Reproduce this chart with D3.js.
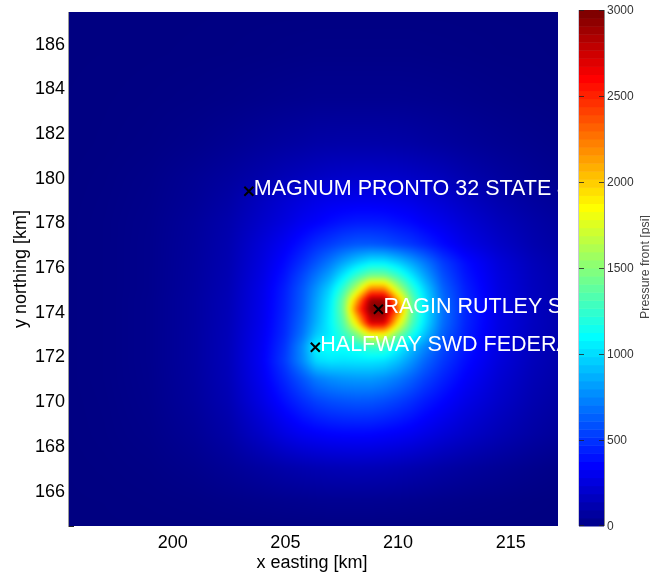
<!DOCTYPE html>
<html><head><meta charset="utf-8">
<script src="https://cdn.jsdelivr.net/npm/d3@7/dist/d3.min.js"></script>
<style>
html,body{margin:0;padding:0;background:#fff;}
#wrap{position:relative;width:650px;height:575px;overflow:hidden;}
canvas,svg{position:absolute;left:0;top:0;}
text{font-family:"Liberation Sans",Arial,sans-serif;}
</style></head><body><div id="wrap"><canvas id="heat" width="650" height="575"></canvas><svg id="chart" width="650" height="575"></svg></div>
<script>
const gridX=[195.4,197,199,201,202.5,204,205,205.8,206.4,207,207.6,208.2,208.8,209.4,210,210.6,211.2,212,213,214.5,216,217.1];
const gridY=[187.4,185.5,183.5,181.5,180,179,178,177,176.2,175.6,175,174.5,174.1,173.5,173,172.4,171.8,171,170,168.5,167,165.5,164.4];
const pressure=[
[5,6,7,8,9,10,10,10,10,10,10,10,10,10,10,10,10,10,9,8,7,6],
[5,6,8,10,12,15,18,20,22,22,22,22,22,22,22,22,20,18,16,12,10,8],
[6,8,12,18,25,35,42,46,50,50,50,50,50,50,50,48,46,42,35,25,18,14],
[6,10,18,35,55,80,95,105,115,118,120,120,120,118,115,110,100,90,75,55,40,30],
[8,14,28,60,90,130,160,180,195,210,218,222,222,220,215,205,192,172,135,95,65,48],
[9,16,32,68,110,190,240,275,300,315,320,325,325,320,310,295,270,240,195,135,92,70],
[10,18,36,80,130,220,280,335,365,400,430,445,445,440,415,390,350,310,250,175,120,90],
[10,18,38,85,140,260,345,430,500,550,600,630,630,610,570,530,475,395,305,215,140,105],
[10,18,38,88,145,280,395,515,620,730,860,980,1070,1070,980,860,730,550,405,265,170,125],
[10,18,38,90,150,295,430,585,720,860,1070,1290,1460,1460,1290,1070,860,610,435,280,180,135],
[10,18,38,92,155,310,460,635,810,1000,1290,1700,2250,2250,1700,1290,1000,670,465,288,185,140],
[10,18,40,95,160,315,470,650,850,1060,1440,2150,2920,2920,2150,1440,1060,700,480,295,190,142],
[10,18,40,95,162,320,475,660,870,1080,1460,2350,3000,3000,2350,1460,1080,715,485,298,190,142],
[10,18,40,95,165,325,490,690,900,1100,1380,1950,2750,2750,1950,1380,1050,700,480,295,190,142],
[10,18,40,96,168,335,500,720,960,1080,1280,1520,1900,1900,1520,1220,960,660,465,290,185,140],
[10,18,40,96,170,345,530,800,1120,1150,1150,1180,1280,1280,1120,950,780,590,440,282,180,138],
[10,18,40,96,170,350,550,790,1020,1060,1050,1060,1060,1040,950,820,680,540,410,270,175,132],
[10,18,38,92,165,335,490,630,740,790,820,830,830,800,740,660,570,470,365,245,160,122],
[9,16,35,85,150,300,415,505,565,600,620,630,625,600,560,510,450,385,305,215,140,105],
[8,14,28,65,115,215,290,335,355,370,378,380,378,365,350,330,300,260,215,155,105,78],
[6,10,18,38,65,100,125,140,150,158,162,165,162,158,150,140,128,110,90,65,42,28],
[5,6,10,16,25,35,42,46,50,52,52,52,52,50,48,44,40,34,28,20,12,8],
[4,5,6,8,10,12,14,15,15,16,16,16,16,15,15,14,13,12,10,8,6,5]
];
const wellNames=["MAGNUM PRONTO 32 STATE 4","RAGIN RUTLEY SWD","HALFWAY SWD FEDERAL"];
const wellX=[203.4,209.15,206.35];
const wellY=[179.38,174.1,172.4];
const xTicks=[200,205,210,215];
const yTicks=[166,168,170,172,174,176,178,180,182,184,186];
const cbTicks=[0,500,1000,1500,2000,2500,3000];

const plot={l:69,r:558,t:12,b:526};
const cb={l:579,r:604,t:10,b:526};
const x=d3.scaleLinear().domain([195.42,217.12]).range([plot.l,plot.r]);
const y=d3.scaleLinear().domain([164.4,187.4]).range([plot.b,plot.t]);
const c=d3.scaleLinear().domain([0,3000]).range([cb.b,cb.t]);

// MATLAB jet
function jet(t){
  const f=v=>Math.round(255*Math.max(0,Math.min(1,v)));
  return [f(1.5-Math.abs(4*t-3)),f(1.5-Math.abs(4*t-2)),f(1.5-Math.abs(4*t-1))];
}
const levels=d3.range(64).map(i=>jet((i+1)/64));
const colorOf=v=>jet(v/3000);

// shaded heat field: gridded values, bilinear shading then a soft blur, as an interpolated surface
const pad=12;
const w=plot.r-plot.l,h=plot.b-plot.t;
const off=document.createElement('canvas');off.width=w+2*pad;off.height=h+2*pad;
const octx=off.getContext('2d');
const img=octx.createImageData(off.width,off.height);
const bisectAsc=d3.bisector(d=>d).right;
const gridYAsc=gridY.slice().reverse();
for(let j=0;j<off.height;j++){
  const vy=y.invert(plot.t-pad+j+0.5);
  let b=Math.min(gridYAsc.length-2,Math.max(0,bisectAsc(gridYAsc,vy)-1));
  const ty=Math.max(0,Math.min(1,(vy-gridYAsc[b])/(gridYAsc[b+1]-gridYAsc[b])));
  const r0=pressure[gridY.length-1-b],r1=pressure[gridY.length-2-b];
  for(let i=0;i<off.width;i++){
    const vx=x.invert(plot.l-pad+i+0.5);
    let a=Math.min(gridX.length-2,Math.max(0,bisectAsc(gridX,vx)-1));
    const tx=Math.max(0,Math.min(1,(vx-gridX[a])/(gridX[a+1]-gridX[a])));
    const v=(r0[a]*(1-tx)+r0[a+1]*tx)*(1-ty)+(r1[a]*(1-tx)+r1[a+1]*tx)*ty;
    const col=colorOf(v),k=(j*off.width+i)*4;
    img.data[k]=col[0];img.data[k+1]=col[1];img.data[k+2]=col[2];img.data[k+3]=255;
  }
}
octx.putImageData(img,0,0);
const ctx=document.getElementById('heat').getContext('2d');
ctx.save();
ctx.beginPath();ctx.rect(plot.l,plot.t,w,h);ctx.clip();
ctx.filter='blur(2px)';
ctx.drawImage(off,plot.l-pad,plot.t-pad);
ctx.restore();

const svg=d3.select('#chart');
const font='"Liberation Sans",Arial,sans-serif';
svg.append('defs').append('clipPath').attr('id','plotClip').append('rect')
  .attr('x',plot.l).attr('y',plot.t).attr('width',w).attr('height',h);

// main axes
const gx=svg.append('g').attr('transform',`translate(0,${plot.b})`)
  .call(d3.axisBottom(x).tickValues(xTicks).tickFormat(d3.format('d')).tickSize(0).tickPadding(9));
const gy=svg.append('g').attr('transform',`translate(${plot.l},0)`)
  .call(d3.axisLeft(y).tickValues(yTicks).tickFormat(d3.format('d')).tickSize(0).tickPadding(4));
[gx,gy].forEach(g=>{
  g.selectAll('text').attr('font-size',18).attr('fill','#000').style('font-family',font);
  g.select('.domain').attr('stroke','none');
});
svg.append('line').attr('x1',plot.l-0.5).attr('x2',plot.l-0.5).attr('y1',plot.t).attr('y2',plot.b+1).attr('stroke','#9a9a9a');
svg.append('line').attr('x1',plot.l).attr('x2',plot.l+5).attr('y1',plot.b+0.5).attr('y2',plot.b+0.5).attr('stroke','#222');

svg.append('text').attr('x',312).attr('y',568).attr('text-anchor','middle')
  .attr('font-size',18).text('x easting [km]');
svg.append('text').attr('transform','translate(26,269) rotate(-90)').attr('text-anchor','middle')
  .attr('font-size',18).text('y northing [km]');

// wells
const wells=svg.append('g').attr('clip-path','url(#plotClip)');
wellNames.forEach((name,i)=>{
  const px=x(wellX[i]),py=y(wellY[i]);
  wells.append('path').attr('d',`M${px-4.5},${py-4.5}L${px+4.5},${py+4.5}M${px-4.5},${py+4.5}L${px+4.5},${py-4.5}`)
    .attr('stroke','#000').attr('stroke-width',2).attr('fill','none');
  wells.append('text').attr('x',px+5).attr('y',py+3.5).attr('font-size',21.5).attr('fill','#fff').text(name);
});

// colorbar
const step=(cb.b-cb.t)/64;
svg.append('g').selectAll('rect').data(levels).join('rect')
  .attr('x',cb.l).attr('width',cb.r-cb.l)
  .attr('y',(d,i)=>cb.b-(i+1)*step).attr('height',step+0.5)
  .attr('fill',d=>`rgb(${d[0]},${d[1]},${d[2]})`);
svg.append('line').attr('x1',cb.r+0.5).attr('x2',cb.r+0.5).attr('y1',cb.t).attr('y2',cb.b).attr('stroke','#8a8a8a');
svg.append('line').attr('x1',cb.l-0.5).attr('x2',cb.l-0.5).attr('y1',cb.t).attr('y2',cb.b).attr('stroke','#c8c8d8');
const cbAxis=svg.append('g').attr('transform',`translate(${cb.r+1},0)`)
  .call(d3.axisRight(c).tickValues(cbTicks).tickFormat(d3.format('d')).tickSize(0).tickPadding(2));
cbAxis.select('.domain').attr('stroke','none');
cbAxis.selectAll('text').attr('font-size',12).attr('fill','#333').style('font-family',font);
cbTicks.forEach(t=>{
  const yy=Math.min(cb.b-0.5,Math.max(cb.t+0.5,Math.round(c(t))+0.5));
  [[cb.l,cb.l+5],[cb.r-5,cb.r]].forEach(e=>svg.append('line').attr('x1',e[0]).attr('x2',e[1]).attr('y1',yy).attr('y2',yy).attr('stroke','#222').attr('opacity',0.8));
});
svg.append('text').attr('transform','translate(649,267) rotate(-90)').attr('text-anchor','middle')
  .attr('font-size',12.4).attr('fill','#444').text('Pressure front [psi]');
</script></body></html>
